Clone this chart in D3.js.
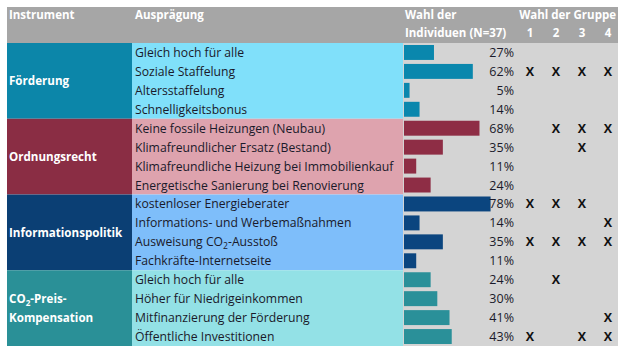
<!DOCTYPE html>
<html><head><meta charset="utf-8">
<script src="https://cdn.jsdelivr.net/npm/d3@7"></script>
<style>body{margin:0;background:#fff}svg{display:block;font-family:"Open Sans",sans-serif}</style>
</head><body><svg id="c" width="624" height="349"></svg>
<script>
const instruments = ["Förderung","Ordnungsrecht","Informationspolitik","CO2-Preis-|Kompensation"];
const instrumentOf = [0,0,0,0,1,1,1,1,2,2,2,2,3,3,3,3];
const options = ["Gleich hoch für alle","Soziale Staffelung","Altersstaffelung","Schnelligkeitsbonus",
 "Keine fossile Heizungen (Neubau)","Klimafreundlicher Ersatz (Bestand)","Klimafreundliche Heizung bei Immobilienkauf","Energetische Sanierung bei Renovierung",
 "kostenloser Energieberater","Informations- und Werbemaßnahmen","Ausweisung CO2-Ausstoß","Fachkräfte-Internetseite",
 "Gleich hoch für alle","Höher für Niedrigeinkommen","Mitfinanzierung der Förderung","Öffentliche Investitionen"];
const shares = [27,62,5,14,68,35,11,24,78,14,35,11,24,30,41,43];
const groupChoices = [[],[1,2,3,4],[],[],[2,3,4],[3],[],[],[1,2,3],[4],[1,2,3,4],[],[2],[],[4],[1,3,4]];
const groupIds = [1,2,3,4];

const darkCol = ["#0c86a9","#8a2d44","#0b3f74","#2a9097"];
const lightCol = ["#80e0fa","#dea3ae","#7ebefa","#93e1e6"];
const barCol = ["#0a87ad","#8e2d45","#0b457f","#2a9099"];

const svg = d3.select("#c");
const L=7, R=618, T=7, H0=43, B=346;
const xInstr=L, xOpt=132, xBar=403;
const y = d3.scaleBand().domain(d3.range(options.length)).range([H0,B]).paddingInner(0);
const w = d3.scaleLinear().domain([0,100]).range([0,111]);
const gx = d3.scaleLinear().domain([1,4]).range([530,608]);

function richText(sel, str){
  const parts = str.split("CO2");
  parts.forEach((p,i)=>{
    if(i>0){
      sel.append("tspan").text("CO");
      sel.append("tspan").attr("dy",3).attr("font-size","0.7em").text("2");
      sel.append("tspan").attr("dy",-3).text(p);
    } else if(p) sel.append("tspan").text(p);
  });
}

svg.append("rect").attr("x",L).attr("y",T).attr("width",R-L).attr("height",H0-T).attr("fill","#a6a6a6");
svg.append("rect").attr("x",xBar).attr("y",H0).attr("width",R-xBar).attr("height",B-H0).attr("fill","#d4d4d4");

const hdr = svg.append("g").attr("fill","#fff").attr("font-weight","bold").attr("font-size",11.5);
hdr.append("text").attr("x",9).attr("y",19).text("Instrument");
hdr.append("text").attr("x",135).attr("y",19).text("Ausprägung");
hdr.append("text").attr("x",405).attr("y",19).text("Wahl der");
hdr.append("text").attr("x",405).attr("y",37).text("Individuen (N=37)");
hdr.append("text").attr("x",616).attr("y",19).attr("text-anchor","end").text("Wahl der Gruppe");
hdr.selectAll("text.g").data(groupIds).join("text").attr("class","g")
  .attr("x",d=>gx(d)).attr("y",37).attr("text-anchor","middle").text(d=>d);

instruments.forEach((name,k)=>{
  const rows = d3.range(options.length).filter(i=>instrumentOf[i]===k);
  const y0 = y(rows[0]), y1 = y(rows[rows.length-1])+y.bandwidth();
  svg.append("rect").attr("x",xInstr).attr("y",y0).attr("width",xOpt-xInstr).attr("height",y1-y0).attr("fill",darkCol[k]);
  svg.append("rect").attr("x",xOpt).attr("y",y0).attr("width",xBar-xOpt).attr("height",y1-y0).attr("fill",lightCol[k]);
  const lines = name.split("|");
  const cy = (y0+y1)/2;
  lines.forEach((ln,j)=>{
    const t = svg.append("text").attr("x",9).attr("y",cy+4.5+(j-(lines.length-1)/2)*19)
      .attr("fill","#fff").attr("font-weight","bold").attr("font-size",11.6);
    richText(t, ln);
  });
});

options.forEach((o,i)=>{
  const t = svg.append("text").attr("x",135).attr("y",y(i)+y.bandwidth()/2+4.5)
    .attr("fill","#1a1a2a").attr("font-size",12.2);
  richText(t,o);
});

svg.selectAll("rect.bar").data(shares).join("rect").attr("class","bar")
  .attr("x",xBar+1).attr("y",(d,i)=>y(i)+2).attr("height",y.bandwidth()-4)
  .attr("width",d=>w(d)).attr("fill",(d,i)=>barCol[instrumentOf[i]]);

svg.selectAll("text.pct").data(shares).join("text").attr("class","pct")
  .attr("x",514).attr("y",(d,i)=>y(i)+y.bandwidth()/2+4.5).attr("text-anchor","end")
  .attr("font-size",12.5).attr("fill","#1a1a2a").text(d=>d+"%");

groupChoices.forEach((gs,i)=>{
  gs.forEach(g=>{
    svg.append("text").attr("x",gx(g)).attr("y",y(i)+y.bandwidth()/2+4.5).attr("text-anchor","middle")
      .attr("font-size",12.5).attr("font-weight","bold").attr("fill","#111").text("X");
  });
});
</script></body></html>
